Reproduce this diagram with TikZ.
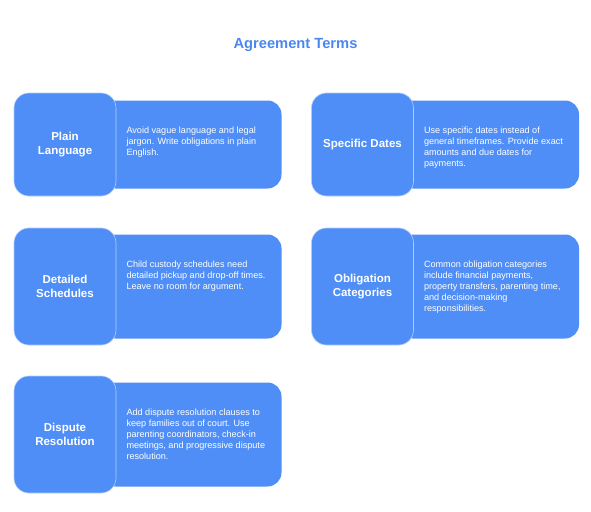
\documentclass[tikz,border=0pt]{standalone}
\usepackage{fontspec}
\setmainfont{Liberation Sans}
\usepackage{tikz}
\usetikzlibrary{positioning,backgrounds}
\definecolor{termblue} {RGB}{79,142,247}
\definecolor{titleblue}{RGB}{74,136,240}
\definecolor{edgeblue} {RGB}{175,205,252}
\newcommand{\termtext}[2]{\hspace*{15pt}\parbox[c][#1][t]{145pt}{\raggedright\rule{0pt}{10.5pt}#2}}
\tikzset{
  hd/.style={fill=termblue,draw=edgeblue,line width=0.6pt,rounded corners=15pt,
             minimum width=102pt,align=center,text=white,
             font=\fontsize{11.5}{14.5}\selectfont\bfseries},
  tx/.style={fill=termblue,rounded corners=14pt,inner xsep=10pt,inner ysep=22pt,
             text=white,font=\fontsize{9.1}{11}\selectfont},
  ttl/.style={font=\fontsize{14.7}{17}\selectfont\bfseries,text=titleblue},
}
\begin{document}
\begin{tikzpicture}[x=1pt,y=-1pt]
  \useasboundingbox (0,0) rectangle (591,511);
  % title
  \node[ttl](title) at (295.5,45){Agreement Terms};

  % headers
  \node[hd,minimum height=103pt](plainhd) at (65,144.5){Plain\\ Language};
  \node[hd,minimum height=103pt](datehd) at (362.5,144.5){Specific Dates};
  \node[hd,minimum height=117pt](schedhd) at (65,286.5){Detailed\\ Schedules};
  \node[hd,minimum height=117pt](oblighd) at (362.5,286.5){Obligation\\ Categories};
  \node[hd,minimum height=117pt](disphd) at (65,434.5){Dispute\\ Resolution};

  % text panels behind the headers
  \begin{scope}[on background layer]
    \node[tx,right=-15pt of plainhd](plaintx){\termtext{44pt}{Avoid vague language and legal\\ jargon. Write obligations in plain\\ English.}};
    \node[tx,right=-15pt of datehd](datetx){\termtext{44pt}{Use specific dates instead of\\ general timeframes. Provide exact\\ amounts and due dates for\\ payments.}};
    \node[tx,right=-15pt of schedhd](schedtx){\termtext{60pt}{Child custody schedules need\\ detailed pickup and drop-off times.\\ Leave no room for argument.}};
    \node[tx,right=-15pt of oblighd](obligtx){\termtext{60pt}{Common obligation categories\\ include financial payments,\\ property transfers, parenting time,\\ and decision-making\\ responsibilities.}};
    \node[tx,right=-15pt of disphd](disptx){\termtext{60pt}{Add dispute resolution clauses to\\ keep families out of court. Use\\ parenting coordinators, check-in\\ meetings, and progressive dispute\\ resolution.}};
  \end{scope}
\end{tikzpicture}
\end{document}
